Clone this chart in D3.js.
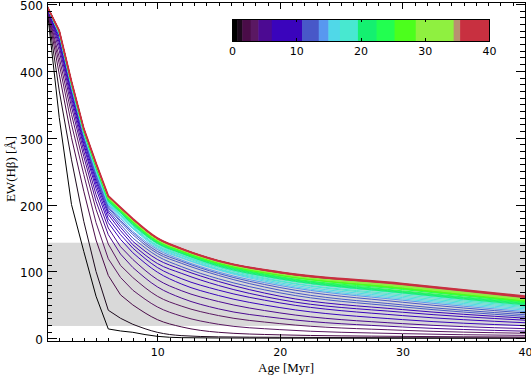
<!DOCTYPE html>
<html lang="en">
<head>
<meta charset="UTF-8">
<title>EW(Hbeta) versus age</title>
<script src="https://d3js.org/d3.v7.min.js"></script>
<style>
    body, html {
        margin: 0;
        padding: 0;
        background-color: #ffffff;
    }
    svg { display: block; }
    .tick-label {
        font-family: "DejaVu Sans", sans-serif;
        font-size: 11px;
        fill: #000;
    }
    .ylab .tick-label { font-size: 12px; }
    .axis-title {
        font-family: "Liberation Serif", "DejaVu Serif", serif;
        font-size: 13px;
        fill: #000;
    }
</style>
</head>
<body>
<div id="chart"></div>
<script>
// ages (Myr) at which every curve is sampled
var ages = [1, 2, 3, 4, 5, 6, 7, 8, 10, 12, 15, 20, 30, 40];

// EW(Hbeta) in Angstrom, one row per curve, row index = colour value 0..40
var ewCurves = [
    [494, 330, 200, 130, 63, 14, 11, 9, 3, 1, 0.5, 0.3, 0.1, 0.1],
    [494, 370, 267, 175, 100, 42, 30, 21, 9, 4, 2.2, 1.5, 0.8, 0.6],
    [495, 395, 300, 220, 147, 94, 65, 50, 28, 17, 9, 5.2, 2.9, 1.9],
    [495, 410, 320, 245, 173, 119, 91, 72, 47, 33, 21, 13, 7, 4.4],
    [495, 420, 335, 260, 193, 141, 109, 91, 63, 48, 34, 22, 12, 7.6],
    [495, 430, 346, 272, 205, 155, 126, 106, 77, 60, 44, 30, 17, 10.7],
    [496, 437, 354, 280, 215, 165, 137, 118, 88, 71, 55, 38, 22, 14.5],
    [496, 442, 360, 287, 224, 173, 148, 128, 99, 81, 64, 46, 28, 18.9],
    [496, 446, 365, 291, 230, 179, 155, 135, 106, 89, 72, 53, 34, 23.3],
    [496, 450, 369, 296, 235, 185, 161, 140, 112, 97, 79, 58, 39, 27.1],
    [496, 452, 372, 299, 239, 189, 166, 145, 118, 103, 85, 63, 43, 30.2],
    [496, 453, 373, 300, 241, 192, 170, 150, 123, 107, 89, 68, 47, 32.8],
    [496, 454, 374, 302, 244, 195, 174, 155, 127, 112, 94, 72, 50, 35.3],
    [496, 454, 375, 304, 246, 197, 176, 158, 130, 115, 97, 76, 54, 37.8],
    [496, 455, 376, 305, 248, 199, 179, 160, 133, 117, 99, 79, 57, 40],
    [496, 456, 377, 306, 250, 201, 181, 164, 135, 120, 102, 81, 59, 42.2],
    [496, 456, 378, 307, 251, 202, 183, 165, 137, 121, 103, 83, 61, 44.1],
    [496, 456, 378, 307, 252, 203, 184, 166, 138, 123, 104, 85, 63, 46],
    [496, 457, 379, 308, 253, 204, 185, 168, 139, 124, 106, 86, 65, 47.6],
    [496, 457, 379, 308, 254, 205, 186, 169, 141, 125, 107, 88, 67, 48.8],
    [497, 457, 380, 309, 255, 205, 188, 170, 142, 127, 108, 89, 68, 50.1],
    [497, 458, 380, 309, 256, 206, 188, 171, 143, 127, 109, 90, 69, 51.2],
    [497, 458, 380, 310, 256, 207, 189, 172, 143, 128, 110, 91, 70, 52.3],
    [497, 458, 381, 310, 257, 207, 190, 173, 144, 129, 111, 92, 71, 53.2],
    [497, 458, 381, 310, 257, 208, 190, 173, 145, 129, 111, 92, 73, 54.1],
    [497, 458, 381, 310, 258, 208, 191, 174, 145, 130, 112, 94, 74, 54.8],
    [497, 459, 382, 311, 258, 209, 191, 174, 146, 130, 112, 94, 74.5, 55.5],
    [497, 459, 382, 311, 259, 209, 192, 175, 146, 131, 113, 95, 75, 56.2],
    [497, 459, 382, 311, 259, 209, 192, 175, 146, 131, 113, 95, 76, 56.8],
    [497, 459, 382, 312, 259, 210, 193, 176, 147, 132, 114, 96, 77, 57.4],
    [497, 459, 383, 312, 260, 210, 193, 176, 147, 132, 114, 96, 77.5, 58],
    [497, 459, 383, 312, 260, 211, 194, 176, 148, 132, 114, 97, 78, 58.5],
    [497, 459, 383, 313, 260, 211, 194, 177, 148, 133, 115, 97, 78.5, 59],
    [497, 459, 383, 313, 260, 211, 194, 177, 148, 133, 115, 97, 79, 59.5],
    [497, 459, 383, 313, 261, 211, 194, 177, 149, 133, 115, 98, 79.5, 60],
    [497, 459, 383, 313, 261, 212, 195, 178, 149, 133, 115, 98, 80, 60.5],
    [497, 460, 383, 313, 261, 212, 195, 178, 149, 133, 115, 98, 80.4, 61],
    [497, 460, 384, 313, 261, 212, 195, 178, 149, 134, 116, 98, 81, 61.5],
    [497, 460, 384, 314, 262, 212, 195, 178, 150, 134, 116, 99, 81.2, 62],
    [497, 460, 384, 314, 262, 213, 196, 179, 150, 134, 116, 99, 81.6, 62.5],
    [497, 460, 384, 314, 262, 213, 196, 179, 150, 134, 116, 99, 82, 63]
];

var xTickLabels = [10, 20, 30, 40];
var yTickLabels = [0, 100, 200, 300, 400, 500];

// shaded range of observed EW
var bandRange = [18.5, 143];

// colour bar: block edges and colours
var cbarEdges = [0, 0.8, 1.6, 2.9, 4.1, 6.2, 10.9, 13.5, 15, 16.8, 19.6, 22.5, 25.3, 28.6, 34.5, 35.5, 40];
var cbarColors = ["#000000", "#1c0a1c", "#4a0c48", "#5a1862", "#4c0a92", "#3a04bc", "#4858c8", "#5898f0",
                  "#50d8e8", "#48e8d0", "#14f070", "#22ff50", "#4cff1c", "#8ff040", "#b89070", "#c83040"];
var cbarTickLabels = [0, 10, 20, 30, 40];

var width = 531, height = 376;
var pLeft = 47, pRight = 525, pTop = 2, pBottom = 341;
var splitAt = 7;   // index of age 8: straight segments before, smooth after

function colorFor(v) {
    for (var i = 0; i < cbarColors.length; i++) {
        if (v >= cbarEdges[i] && v < cbarEdges[i + 1]) return cbarColors[i];
    }
    return cbarColors[cbarColors.length - 1];
}

var svg = d3.select("#chart")
  .append("svg")
    .attr("width", width)
    .attr("height", height);

var x = d3.scaleLinear().domain([1, 40]).range([pLeft, pRight]);
var y = d3.scaleLinear().domain([-4, 503]).range([pBottom, pTop]);

svg.append("clipPath").attr("id", "plotclip")
  .append("rect")
    .attr("x", pLeft).attr("y", pTop)
    .attr("width", pRight - pLeft).attr("height", pBottom - pTop);

// gray band
svg.append("rect")
    .attr("x", pLeft)
    .attr("width", pRight - pLeft)
    .attr("y", y(bandRange[1]))
    .attr("height", y(bandRange[0]) - y(bandRange[1]))
    .attr("fill", "#d9d9d9");

// curves, drawn from 0 up to 40 so the red one ends on top
var lineEarly = d3.line()
    .x(function(d) { return x(d[0]); })
    .y(function(d) { return y(d[1]); });
var lineLate = d3.line()
    .curve(d3.curveMonotoneX)
    .x(function(d) { return x(d[0]); })
    .y(function(d) { return y(d[1]); });

var curves = svg.append("g").attr("clip-path", "url(#plotclip)");
ewCurves.forEach(function(vals, k) {
    var pts = vals.map(function(v, i) { return [ages[i], v]; });
    var path = lineEarly(pts.slice(0, splitAt + 1)) + lineLate(pts.slice(splitAt)).replace(/^M[^LC]*/, "");
    curves.append("path")
        .attr("fill", "none")
        .attr("stroke", colorFor(k))
        .attr("stroke-width", k === 40 ? 1.7 : 1)
        .attr("stroke-linejoin", "round")
        .attr("d", path);
});

// minor tick positions
var xMinor = d3.range(2, 40).filter(function(v) { return v % 10 !== 0; });
var yMinor = d3.range(0, 501, 10).filter(function(v) { return v % 100 !== 0; });

function styleAxis(g) {
    g.select(".domain").remove();
    g.selectAll(".tick line").attr("stroke", "#000").attr("shape-rendering", "crispEdges");
    g.selectAll("text").attr("class", "tick-label").attr("fill", "#000");
    g.attr("font-size", null).attr("font-family", null);
}

// bottom axis
svg.append("g")
    .attr("transform", "translate(0," + pBottom + ")")
    .call(d3.axisBottom(x).tickValues(xTickLabels).tickSize(-7).tickPadding(7).tickFormat(d3.format("d")))
    .call(styleAxis);
svg.append("g")
    .attr("transform", "translate(0," + pBottom + ")")
    .call(d3.axisBottom(x).tickValues(xMinor).tickSize(-3.5).tickFormat(""))
    .call(styleAxis);
// top axis (ticks only)
svg.append("g")
    .attr("transform", "translate(0," + pTop + ")")
    .call(d3.axisTop(x).tickValues(xTickLabels).tickSize(-7).tickFormat(""))
    .call(styleAxis);
svg.append("g")
    .attr("transform", "translate(0," + pTop + ")")
    .call(d3.axisTop(x).tickValues(xMinor).tickSize(-3.5).tickFormat(""))
    .call(styleAxis);

// left axis
svg.append("g")
    .attr("class", "ylab")
    .attr("transform", "translate(" + pLeft + ",0)")
    .call(d3.axisLeft(y).tickValues(yTickLabels).tickSize(-9.5).tickPadding(4).tickFormat(d3.format("d")))
    .call(styleAxis)
    .selectAll("text").attr("dy", "0.45em");
svg.append("g")
    .attr("transform", "translate(" + pLeft + ",0)")
    .call(d3.axisLeft(y).tickValues(yMinor).tickSize(-4.8).tickFormat(""))
    .call(styleAxis);
// right axis (ticks only)
svg.append("g")
    .attr("transform", "translate(" + pRight + ",0)")
    .call(d3.axisRight(y).tickValues(yTickLabels).tickSize(-9.5).tickFormat(""))
    .call(styleAxis);
svg.append("g")
    .attr("transform", "translate(" + pRight + ",0)")
    .call(d3.axisRight(y).tickValues(yMinor).tickSize(-4.8).tickFormat(""))
    .call(styleAxis);

// frame
svg.append("rect")
    .attr("x", pLeft).attr("y", pTop)
    .attr("width", pRight - pLeft).attr("height", pBottom - pTop)
    .attr("fill", "none")
    .attr("stroke", "#000")
    .attr("shape-rendering", "crispEdges");

// axis titles
svg.append("text")
    .attr("class", "axis-title")
    .attr("x", 286)
    .attr("y", 372)
    .attr("text-anchor", "middle")
    .text("Age [Myr]");

svg.append("text")
    .attr("class", "axis-title")
    .attr("transform", "translate(15,169) rotate(-90)")
    .attr("text-anchor", "middle")
    .text("EW(H\u03B2) [\u00C5]");

// colour bar
var cb = d3.scaleLinear().domain([0, 40]).range([232, 489]);
var cbTop = 19, cbBottom = 41;
var cbar = svg.append("g");
cbarColors.forEach(function(c, i) {
    cbar.append("rect")
        .attr("x", cb(cbarEdges[i]))
        .attr("y", cbTop)
        .attr("width", cb(cbarEdges[i + 1]) - cb(cbarEdges[i]) + 0.5)
        .attr("height", cbBottom - cbTop)
        .attr("fill", c);
});
cbar.append("rect")
    .attr("x", cb(0)).attr("y", cbTop)
    .attr("width", cb(40) - cb(0)).attr("height", cbBottom - cbTop)
    .attr("fill", "none").attr("stroke", "#000").attr("shape-rendering", "crispEdges");
cbar.append("g")
    .attr("transform", "translate(0," + cbBottom + ")")
    .call(d3.axisBottom(cb).tickValues(cbarTickLabels).tickSize(-3).tickPadding(6).tickFormat(d3.format("d")))
    .call(styleAxis);
cbar.append("g")
    .attr("transform", "translate(0," + cbTop + ")")
    .call(d3.axisTop(cb).tickValues(cbarTickLabels).tickSize(-3).tickFormat(""))
    .call(styleAxis);
</script>
</body>
</html>
